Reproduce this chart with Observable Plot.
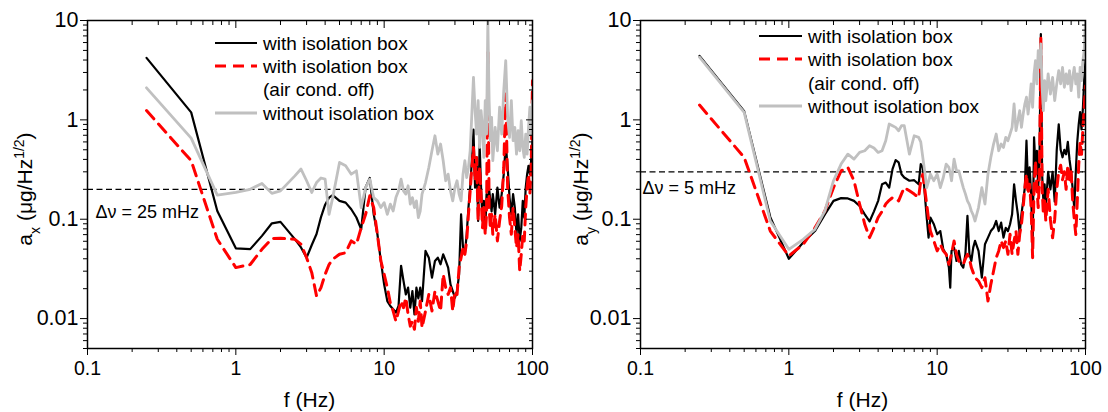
<!DOCTYPE html>
<html><head><meta charset="utf-8">
<script src="https://cdn.jsdelivr.net/npm/d3@7"></script>
<script src="https://cdn.jsdelivr.net/npm/@observablehq/plot@0.6"></script>
<style>
body{margin:0;background:#fff;}
#wrap{display:flex;width:1108px;height:412px;overflow:hidden;}
svg{font-family:"Liberation Sans",Arial,sans-serif;}
</style></head><body><div id="wrap"></div>
<script>
// ---------- data (left panel: x axis, Δν = 25 mHz) ----------
const leftFreq = [0.25,0.5,0.75,1,1.25,1.5,1.75,2,2.5,2.75,3,3.25,3.5,3.75,4,4.25,4.5,5,5.5,6,6.5,7,7.5,8,8.5,9,9.5,10,10.5,11,11.5,12,12.5,13,13.5,14,14.5,15,15.5,16,16.5,17,17.5,18,19,20,21,22,23,24,25,26,27,28,29,30,31,32,33,34,35,36,37,38,39,40,41,42,43,44,45,46,47,48,49,50,51,52,53,54,56,58,60,62,64,66,68,70,72,74,76,78,80,82,84,86,88,90,92,94,96,98,100];
const leftWithBox = [4.21,1.19,0.121,0.051,0.050,0.068,0.091,0.094,0.063,0.052,
  0.041,0.055,0.071,0.105,0.14,0.165,0.175,0.153,0.147,0.126,
  0.104,0.079,0.21,0.26,0.112,0.071,0.038,0.022,0.015,0.0134,
  0.0124,0.0115,0.0134,0.034,0.024,0.0175,0.0205,0.0129,0.0189,0.011,
  0.0205,0.016,0.0205,0.015,
  0.048,0.041,0.0258,0.038,0.041,0.0352,0.0444,0.038,0.0326,0.0221,
  0.0189,0.0162,0.0189,0.0279,0.112,0.0518,0.0444,0.0706,0.131,0.208,
  0.388,0.8,0.208,0.419,0.096,0.571,0.208,0.096,0.153,0.076,
  0.179,0.131,0.2,0.153,0.12,0.179,
  0.112,0.208,0.131,0.179,0.284,0.571,0.332,0.165,0.112,0.179,
  0.131,0.0706,0.112,0.0605,0.082,0.153,0.104,0.208,0.284,0.345,0.284,0.388,0.617];
const leftAirOff = [1.24,0.388,0.0628,0.0326,0.035,0.0498,0.0638,0.0643,0.0628,0.056,
  0.041,0.029,0.0169,0.0205,0.0279,0.035,0.0395,0.0444,0.046,0.0605,
  0.056,0.082,0.112,0.172,0.131,0.0706,0.038,0.0279,0.0205,0.0144,
  0.0119,0.0094,0.0119,0.015,0.0129,0.0162,0.011,0.0084,0.0094,0.0078,
  0.0129,0.0094,0.015,0.0081,
  0.0119,0.0175,0.0119,0.0189,0.015,0.0119,0.0279,0.0205,0.0175,0.0205,
  0.0119,0.0189,0.0175,0.0326,0.041,0.0518,0.0444,0.0605,0.112,0.193,
  0.332,0.528,0.244,0.419,0.096,0.332,0.179,0.082,0.131,0.0706,
  0.112,5.0,0.131,0.082,0.112,0.0706,
  0.112,0.0605,0.096,0.136,0.332,1.82,0.208,0.104,0.0706,0.131,
  0.082,0.0518,0.0706,0.0301,0.0444,0.0706,0.0605,0.131,0.208,0.284,0.179,0.332,2.48];
const leftNoBox = [2.10,0.656,0.175,0.186,0.2,0.229,0.182,0.193,0.273,0.32,
  0.244,0.186,0.234,0.26,0.253,0.112,0.165,0.373,0.345,0.284,
  0.307,0.131,0.208,0.253,0.165,0.153,0.131,0.147,0.112,0.142,
  0.121,0.165,0.193,0.253,0.193,0.179,0.217,0.142,0.165,0.131,
  0.153,0.104,0.121,0.179,
  0.234,0.332,0.489,0.692,0.452,0.571,0.388,0.244,0.284,0.193,
  0.153,0.208,0.244,0.179,0.153,0.284,0.388,0.263,0.332,0.489,
  1.145,2.68,1.237,0.72,1.56,0.528,1.237,0.84,0.419,1.56,
  0.72,10,1.56,0.617,1.06,0.388,
  0.84,0.489,1.34,0.72,1.97,3.95,1.06,0.667,1.56,0.617,
  0.84,0.452,0.778,0.489,0.98,0.528,0.419,0.72,0.452,0.84,1.34,0.72,1.56];

// ---------- data (right panel: y axis, Δν = 5 mHz) ----------
const rightFreq = [0.25,0.5,0.75,1,1.25,1.5,1.75,2,2.25,2.5,2.75,3,3.25,3.5,3.75,4,4.25,4.5,4.75,5,5.25,5.5,5.75,6,6.5,7,7.5,7.75,8,8.25,8.5,8.75,9,9.5,10,10.5,11,11.5,12,12.25,12.5,13,13.5,14,14.5,15,15.5,16,16.5,17,17.5,18,19,20,21,22,23,24,25,26,27,28,29,30,31,32,33,34,35,36,37,38,39,40,41,42,43,44,45,46,47,48,49,50,51,52,53,54,56,58,60,62,64,66,68,70,72,74,76,78,80,82,84,86,88,90,92,94,96,98,100];
const rightWithBox = [4.4,1.22,0.105,0.04,0.0582,0.076,0.112,0.153,0.163,0.162,
  0.153,0.136,0.112,0.095,0.12,0.153,0.225,0.234,0.208,0.319,
  0.394,0.373,0.284,0.263,0.244,0.247,0.225,0.359,0.332,0.179,
  0.104,0.0653,0.104,0.089,0.0706,0.076,0.0498,0.0444,0.0326,0.0205,
  0.048,0.0518,0.038,0.048,0.0352,0.0326,0.0444,0.108,0.0444,0.038,0.0518,0.0605,
  0.048,0.0258,0.056,0.0653,0.076,0.082,0.096,0.076,0.0925,0.0653,
  0.082,0.076,0.089,0.112,0.225,0.153,0.112,0.0706,0.112,0.153,
  0.208,0.617,0.208,0.332,0.179,0.0518,0.667,0.332,0.489,0.208,
  0.419,7.3,0.284,0.153,0.225,0.131,
  0.3,0.2,0.3,0.15,0.5,0.9,0.5,0.42,0.5,0.45,
  0.6,0.4,0.3,0.2,0.13,0.3,0.6,0.9,1.2,0.8,1.3,2.5,3.9];
const rightAirOff = [1.41,0.419,0.076,0.0427,0.056,0.082,0.121,0.208,0.307,0.332,
  0.244,0.142,0.089,0.0653,0.082,0.104,0.12,0.142,0.155,0.165,
  0.16,0.153,0.18,0.208,0.193,0.179,0.165,0.244,0.284,0.2,
  0.142,0.1,0.076,0.0605,0.048,0.056,0.048,0.0444,0.0352,0.04,
  0.0444,0.0605,0.0444,0.038,0.036,0.0352,0.04,0.0444,0.04,0.0326,0.029,0.0258,
  0.0239,0.0205,0.0258,0.015,0.0221,0.0301,0.041,0.048,0.0605,0.0518,
  0.0605,0.0444,0.0706,0.0444,0.0605,0.076,0.0444,0.0706,0.089,0.131,
  0.208,0.284,0.179,0.225,0.131,0.041,0.208,0.388,0.208,0.131,
  0.284,6.79,0.208,0.112,0.153,0.096,
  0.2,0.1,0.065,0.1,0.2,0.3,0.35,0.25,0.3,0.2,
  0.35,0.25,0.3,0.15,0.1,0.07,0.15,0.35,0.6,0.45,0.8,1.3,2.2];
const rightNoBox = [4.27,1.19,0.096,0.0498,0.0628,0.079,0.121,0.244,0.359,0.452,
  0.403,0.47,0.489,0.549,0.52,0.47,0.489,0.617,0.908,0.873,
  0.84,0.778,0.873,0.873,0.452,0.692,0.667,0.6,0.419,0.3,
  0.208,0.24,0.284,0.244,0.284,0.208,0.263,0.359,0.332,0.29,
  0.244,0.403,0.307,0.307,0.25,0.208,0.18,0.153,0.14,0.121,0.11,0.096,
  0.131,0.208,0.142,0.284,0.419,0.571,0.72,0.489,0.571,0.528,
  0.667,0.617,0.72,0.84,1.445,0.778,0.98,1.237,0.84,1.145,
  1.445,1.69,1.145,1.56,2.3,1.34,2.9,3.95,2.3,4.98,
  3.38,5.82,2.13,1.237,2.48,1.56,
  2.9,1.82,2.68,1.56,2.3,3.13,2.3,3.38,2.13,2.9,
  2.3,3.13,1.97,2.68,3.38,2.3,2.9,1.69,3.38,2.48,3.95,4.98,10];

// ---------- ticks & labels ----------
const xMajor = [0.1,1,10,100];
const xMinor = [0.2,0.3,0.4,0.5,0.6,0.7,0.8,0.9,2,3,4,5,6,7,8,9,20,30,40,50,60,70,80,90];
const yMajor = [0.01,0.1,1,10];
const yMinor = [0.005,0.006,0.007,0.008,0.009,0.02,0.03,0.04,0.05,0.06,0.07,0.08,0.09,0.2,0.3,0.4,0.5,0.6,0.7,0.8,0.9,2,3,4,5,6,7,8,9];
const seriesNames = ["with isolation box","with isolation box","(air cond. off)","without isolation box"];
const xTitle = "f (Hz)";

const FONT = '"Liberation Sans", Arial, sans-serif';

function panel(cfg){
  const black = cfg.withBox.map((v,i)=>({f:cfg.freq[i], v}));
  const red = cfg.airOff.map((v,i)=>({f:cfg.freq[i], v}));
  const gray = cfg.noBox.map((v,i)=>({f:cfg.freq[i], v}));
  const svg = Plot.plot({
    width:554, height:412, marginTop:20, marginBottom:64,
    marginLeft:cfg.ml, marginRight:cfg.mr,
    style:{fontFamily:FONT, fontSize:"19px", color:"black", background:"white", overflow:"visible"},
    x:{type:"log", domain:[0.1,100], label:null},
    y:{type:"log", domain:[0.005,10], label:null},
    marks:[
      Plot.ruleY([cfg.ref], {stroke:"black", strokeWidth:1.3, strokeDasharray:"6,3.5"}),
      Plot.text([cfg.refLabel], {x:()=>0.1, y:()=>cfg.refLabelY, text:d=>d, dx:cfg.refDx, textAnchor:"start", fontSize:18, fill:"black"}),
      Plot.line(black, {x:"f", y:"v", stroke:"black", strokeWidth:2.2, clip:true}),
      Plot.line(red, {x:"f", y:"v", stroke:"#ff0000", strokeWidth:3, strokeDasharray:"11,7", clip:true}),
      Plot.line(gray, {x:"f", y:"v", stroke:"#c0c0c0", strokeWidth:2.8, clip:true}),
      Plot.frame({stroke:"black", strokeWidth:1.5}),
      Plot.axisX({anchor:"bottom", ticks:xMajor, tickSize:7, tickPadding:6, tickFormat:d=>String(d), label:null, fontSize:19.5}),
      Plot.axisX({anchor:"bottom", ticks:xMinor, tickSize:4, tickFormat:()=>"", label:null}),
      Plot.axisX({anchor:"top", ticks:xMajor, tickSize:-7, tickFormat:()=>"", label:null}),
      Plot.axisX({anchor:"top", ticks:xMinor, tickSize:-4, tickFormat:()=>"", label:null}),
      Plot.axisY({anchor:"left", ticks:yMajor, tickSize:7, tickPadding:2, tickFormat:d=>String(d), label:null, fontSize:21.5}),
      Plot.axisY({anchor:"left", ticks:yMinor, tickSize:4, tickFormat:()=>"", label:null}),
      Plot.axisY({anchor:"right", ticks:yMajor, tickSize:-7, tickFormat:()=>"", label:null}),
      Plot.axisY({anchor:"right", ticks:yMinor, tickSize:-4, tickFormat:()=>"", label:null})
    ]
  });
  const s = d3.select(svg);
  // legend
  const lg = s.append("g").attr("font-family",FONT).attr("font-size",19).attr("text-anchor","start");
  const legendRows = [
    {y:cfg.legY[0], stroke:"black", w:2.2, dash:null, text:seriesNames[0]},
    {y:cfg.legY[1], stroke:"#ff0000", w:3, dash:"11,7", text:seriesNames[1]},
    {y:cfg.legY[2], stroke:null, text:seriesNames[2]},
    {y:cfg.legY[3], stroke:"#c0c0c0", w:2.8, dash:null, text:seriesNames[3]}
  ];
  legendRows.forEach(r=>{
    if(r.stroke){
      lg.append("line").attr("x1",cfg.legX1).attr("x2",cfg.legX2).attr("y1",r.y).attr("y2",r.y)
        .attr("stroke",r.stroke).attr("stroke-width",r.w).attr("stroke-dasharray",r.dash);
    }
    lg.append("text").attr("x",cfg.legT).attr("y",r.y).attr("dy","0.35em")
      .attr("text-anchor","start").attr("fill","black").text(r.text);
  });
  // axis titles
  s.append("text").attr("x",cfg.xc).attr("y",407).attr("text-anchor","middle")
    .attr("font-family",FONT).attr("font-size",21).attr("fill","black").text(xTitle);
  const yl = s.append("text").attr("transform",`translate(${cfg.ylx},189) rotate(-90)`)
    .attr("text-anchor","middle").attr("dy","0.35em").attr("font-family",FONT).attr("font-size",21).attr("fill","black");
  yl.append("tspan").text("a");
  yl.append("tspan").attr("baseline-shift","sub").attr("font-size",14).text(cfg.sub);
  yl.append("tspan").text(" (μg/Hz");
  yl.append("tspan").attr("baseline-shift","super").attr("font-size",14).text("1/2");
  yl.append("tspan").text(")");
  return svg;
}

const wrap = document.getElementById("wrap");
wrap.append(panel({freq:leftFreq, withBox:leftWithBox, airOff:leftAirOff, noBox:leftNoBox,
  ml:87, mr:22, ref:0.2, refLabel:"Δν = 25 mHz", refLabelY:0.117, refDx:8,
  legX1:215, legX2:257, legT:263, legY:[43,66,89.5,113], xc:309.5, ylx:25, sub:"x"}));
wrap.append(panel({freq:rightFreq, withBox:rightWithBox, airOff:rightAirOff, noBox:rightNoBox,
  ml:86, mr:23, ref:0.3, refLabel:"Δν = 5 mHz", refLabelY:0.205, refDx:2,
  legX1:205, legX2:248, legT:254, legY:[36,59,83,106], xc:308.5, ylx:27, sub:"y"}));
</script></body></html>
